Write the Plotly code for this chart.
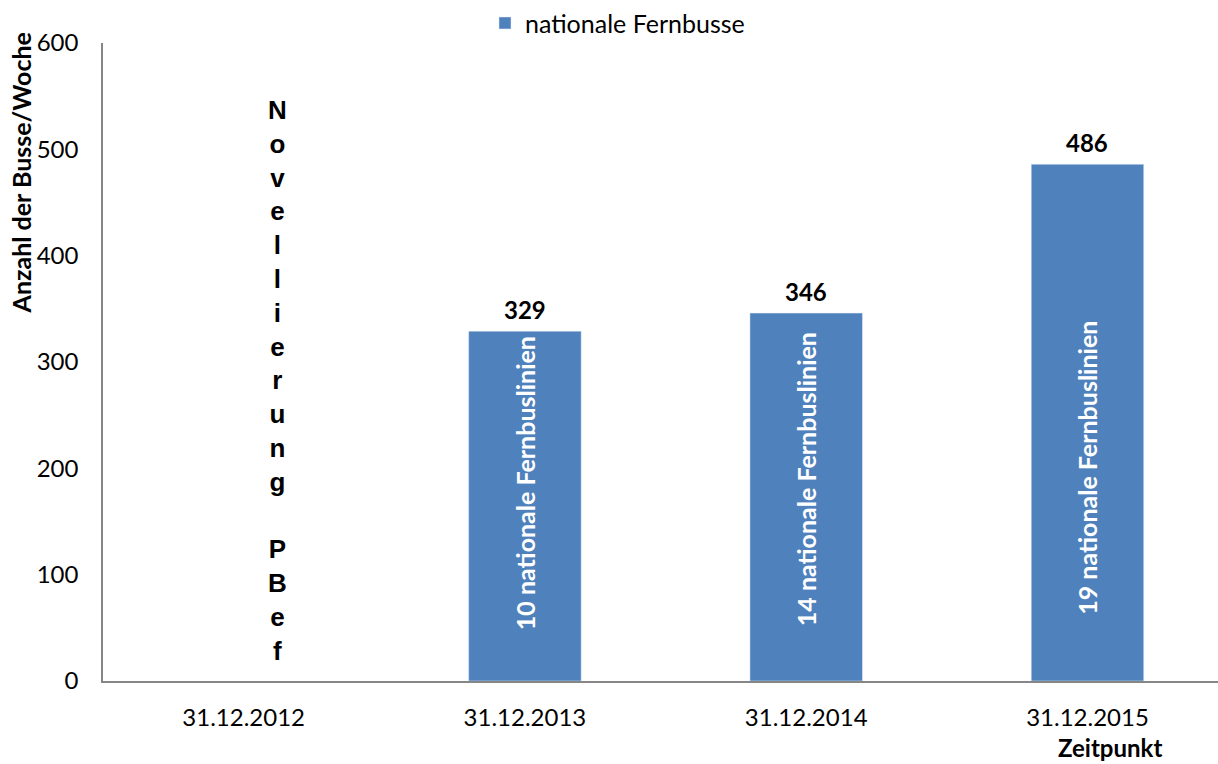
import plotly.graph_objects as go

categories = ["31.12.2012", "31.12.2013", "31.12.2014", "31.12.2015"]
values = [None, 329, 346, 486]
inner_labels = ["", "10 nationale Fernbuslinien", "14 nationale Fernbuslinien", "19 nationale Fernbuslinien"]
series_name = "nationale Fernbusse"
y_ticks = [0, 100, 200, 300, 400, 500, 600]
novelle_text = "Novellierung PBef"

BAR_COLOR = "#4F81BD"
FONT = "Lato"

x_idx = list(range(len(categories)))

fig = go.Figure()
fig.add_trace(go.Bar(
    x=x_idx, y=values, name=series_name, marker_color=BAR_COLOR,
    width=0.4, showlegend=True,
))

annotations = []
# value labels above bars
for i, v in zip(x_idx, values):
    if v is not None:
        annotations.append(dict(x=i, y=v, xref="x", yref="y", text=f"<b>{v}</b>",
                                showarrow=False, yanchor="bottom", yshift=5,
                                font=dict(family=FONT, size=24, color="black")))
# rotated labels inside bars
inner_y = [0, 186, 190, 201]
for i, t, yy in zip(x_idx, inner_labels, inner_y):
    if t:
        annotations.append(dict(x=i, y=yy, xref="x", yref="y", text=f"<b>{t}</b>",
                                showarrow=False, textangle=-90,
                                xanchor="center", yanchor="middle",
                                font=dict(family=FONT, size=25, color="white")))
# vertical stacked text
stack = "<br>".join("<b>%s</b>" % (c if c != " " else "&nbsp;") for c in novelle_text)
annotations.append(dict(x=0.12, y=283, xref="x", yref="y", text=stack, showarrow=False,
                        yanchor="middle", xanchor="center",
                        font=dict(family="Liberation Sans", size=26, color="black")))
# y axis title
annotations.append(dict(x=-0.0735, y=0.7956, xref="paper", yref="paper",
                        xanchor="center", yanchor="middle", borderpad=0,
                        text="<b>Anzahl der Busse/Woche</b>", textangle=-90, showarrow=False,
                        font=dict(family=FONT, size=25, color="black")))
# x axis title
annotations.append(dict(x=0.903, y=-0.104, xref="paper", yref="paper",
                        xanchor="center", yanchor="middle", borderpad=0,
                        text="<b>Zeitpunkt</b>", showarrow=False,
                        font=dict(family=FONT, size=24, color="black")))

fig.update_layout(
    width=1218, height=764,
    margin=dict(l=103, r=0, t=40, b=83),
    paper_bgcolor="white", plot_bgcolor="white",
    font=dict(family=FONT, size=24, color="black"),
    showlegend=True,
    legend=dict(orientation="h", x=0.3426, xanchor="left", y=1.031, yanchor="middle",
                font=dict(family=FONT, size=25, color="black"), bgcolor="rgba(0,0,0,0)"),
    annotations=annotations,
    bargap=0.6,
)
fig.update_xaxes(
    range=[-0.5, 3.464], tickvals=x_idx, ticktext=categories,
    showline=True, linecolor="#868686", linewidth=1.5, showgrid=False, zeroline=False,
    ticks="", ticklabelstandoff=14, tickfont=dict(family=FONT, size=24, color="black"),
)
fig.update_yaxes(
    range=[0, 600], tickvals=y_ticks,
    showline=True, linecolor="#868686", linewidth=1.5, showgrid=False, zeroline=False,
    ticks="", ticklabelstandoff=18, tickfont=dict(family=FONT, size=24, color="black"),
)

fig.write_html("out.html", config={"displayModeBar": False},
               post_script="document.body.style.margin='0px';document.body.style.overflow='hidden';")
